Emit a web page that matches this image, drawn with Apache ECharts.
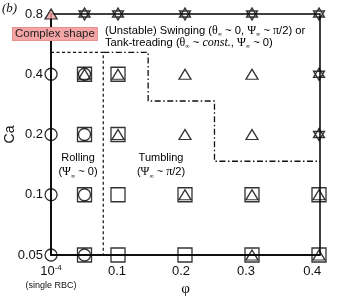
<!DOCTYPE html>
<html><head><meta charset="utf-8">
<script src="https://cdn.jsdelivr.net/npm/echarts@6/dist/echarts.min.js"></script>
<style>html,body{margin:0;padding:0;background:#fff}#c{width:337px;height:300px}</style>
</head><body><div id="c"></div>
<script>
// ---- data ----
const caTicks = [0.05, 0.1, 0.2, 0.4, 0.8];
const phiTickPos = [0, 0.0985, 0.194, 0.291, 0.39];
const phiTickLabels = ['10^-4', '0.1', '0.2', '0.3', '0.4'];
// [phi, Ca]
const rollingPts = [[1e-4,0.05],[1e-4,0.1],[1e-4,0.2],[1e-4,0.4],[0.05,0.05],[0.05,0.1],[0.05,0.2],[0.05,0.4]];
const tumblingPts = [[0.05,0.05],[0.05,0.1],[0.05,0.2],[0.05,0.4],[0.1,0.05],[0.1,0.1],[0.1,0.2],[0.1,0.4],[0.2,0.05],[0.2,0.1],[0.3,0.05],[0.3,0.1],[0.4,0.05],[0.4,0.1]];
const swingingPts = [[0.05,0.4],[0.1,0.2],[0.1,0.4],[0.2,0.1],[0.2,0.2],[0.2,0.4],[0.3,0.05],[0.3,0.1],[0.3,0.2],[0.3,0.4],[0.4,0.05],[0.4,0.1]];
const tankTreadPts = [[0.05,0.8],[0.1,0.8],[0.2,0.8],[0.3,0.8],[0.4,0.8],[0.4,0.4],[0.4,0.2]];
const complexPts = [[1e-4,0.8]];
const rollingBoundary = [[0,0.514],[0.078,0.514],[0.078,0.05]];
const swingingBoundary = [[0.078,0.514],[0.145,0.514],[0.145,0.294],[0.244,0.294],[0.244,0.147],[0.4015,0.147]];

const SANS = 'Liberation Sans, Arial, sans-serif';
const SERIF = 'Liberation Serif, Times New Roman, serif';
const hexPath = 'path://M50,0 L93.3,75 L6.7,75 Z M50,100 L93.3,25 L6.7,25 Z';
const hollow = {color: 'rgba(0,0,0,0)', borderColor: '#000', borderWidth: 1.3};

function scatter(name, data, symbol, size) {
  return {name, type: 'scatter', data, symbol, symbolSize: size, clip: false,
    itemStyle: hollow, emphasis: {disabled: true}, z: 5};
}

const chart = echarts.init(document.getElementById('c'), null, {renderer: 'canvas'});
function rich(fs, gs, lh) {
  return {
    s: {fontFamily: SANS, fontSize: fs, color: '#111', lineHeight: lh},
    g: {fontFamily: SERIF, fontSize: gs, color: '#111', lineHeight: lh},
    gi: {fontFamily: SERIF, fontSize: gs, fontStyle: 'italic', color: '#111', lineHeight: lh},
    sub: {fontFamily: SERIF, fontSize: 6, color: '#111', lineHeight: 5, verticalAlign: 'bottom'}
  };
}
chart.setOption({
  animation: false,
  grid: {left: 51, right: 17, top: 14, bottom: 45, show: true, borderColor: '#000', borderWidth: 1.5,
    backgroundColor: 'transparent', containLabel: false, outerBoundsMode: 'none'},
  xAxis: {
    type: 'value', min: 0, max: 0.4015,
    name: 'φ', nameLocation: 'middle', nameGap: 27, nameMoveOverlap: false,
    nameTextStyle: {fontFamily: SERIF, fontSize: 15, color: '#111'},
    axisLine: {lineStyle: {color: '#000', width: 1.5}}, axisTick: {show: false}, splitLine: {show: false},
    axisLabel: {
      customValues: phiTickPos, margin: 9,
      formatter: v => {
        const i = phiTickPos.findIndex(p => Math.abs(p - v) < 1e-6);
        if (i === 0) return '{n|10}{sup|-4}\n{sm|(single RBC)}';
        return '{n|' + phiTickLabels[i] + '}';
      },
      rich: {
        n: {fontFamily: SANS, fontSize: 13, color: '#111', lineHeight: 15},
        sup: {fontFamily: SANS, fontSize: 8, color: '#111', lineHeight: 8, verticalAlign: 'top'},
        sm: {fontFamily: SANS, fontSize: 9, color: '#111', lineHeight: 13}
      }
    }
  },
  yAxis: {
    type: 'log', logBase: 2, min: 0.05, max: 0.8,
    name: 'Ca', nameLocation: 'middle', nameGap: 34, nameRotate: 90, nameMoveOverlap: false,
    nameTextStyle: {fontFamily: SANS, fontSize: 14, color: '#111'},
    axisLine: {lineStyle: {color: '#000', width: 1.5}}, axisTick: {show: false}, splitLine: {show: false},
    axisLabel: {customValues: caTicks, margin: 8, fontFamily: SANS, fontSize: 13, color: '#111',
      formatter: v => String(Math.round(v * 100) / 100)}
  },
  series: [
    {name: 'Rolling boundary', type: 'line', data: rollingBoundary, symbol: 'none', clip: false,
      lineStyle: {color: '#111', width: 1.2, type: [3, 2.5]}, z: 3},
    {name: 'Swinging boundary', type: 'line', data: swingingBoundary, symbol: 'none', clip: false,
      lineStyle: {color: '#111', width: 1.3, type: [6, 2.5, 1.5, 2.5]}, z: 3},
    scatter('Tumbling', tumblingPts, 'rect', 14),
    scatter('Rolling', rollingPts, 'circle', 12),
    scatter('Swinging', swingingPts, 'triangle', [12, 10]),
    scatter('Swinging or tank-treading', tankTreadPts, hexPath, [11, 12]),
    {name: 'Complex shape', type: 'scatter', data: complexPts, symbol: 'triangle', symbolSize: [12, 10], clip: false,
      itemStyle: {color: '#f4a3a3', borderColor: '#000', borderWidth: 1.3}, z: 6}
  ],
  graphic: [
    {type: 'text', left: 2, top: 2, style: {text: '(b)', font: 'italic 13px ' + SERIF, fill: '#111'}},
    {type: 'text', left: 12, top: 27, z: 10, style: {text: 'Complex shape', font: '11.5px ' + SANS, fill: '#222',
      backgroundColor: '#f5a5a5', borderColor: '#e69090', borderWidth: 1, padding: [0, 2, 0, 2]}},
    {type: 'text', left: 105, top: 25, z: 10, style: {
      text: '{s|(Unstable) Swinging (}{g|θ}{sub|∞}{s| ~ 0, }{g|Ψ}{sub|∞}{s| ~ }{g|π}{s|/2) or}\n' +
            '{s|Tank-treading (}{g|θ}{sub|∞}{s| ~ }{gi|const.}{s|, }{g|Ψ}{sub|∞}{s| ~ 0)}',
      rich: rich(11.2, 12, 12)}},
    {type: 'text', x: 78, y: 151, z: 10, style: {
      text: '{s|Rolling}\n{s|(}{g|Ψ}{sub|∞}{s| ~ 0)}', rich: rich(11, 12, 14), align: 'center'}},
    {type: 'text', x: 161, y: 151, z: 10, style: {
      text: '{s|Tumbling}\n{s|(}{g|Ψ}{sub|∞}{s| ~ }{g|π}{s|/2)}', rich: rich(11, 12, 14), align: 'center'}}
  ]
});
</script></body></html>
